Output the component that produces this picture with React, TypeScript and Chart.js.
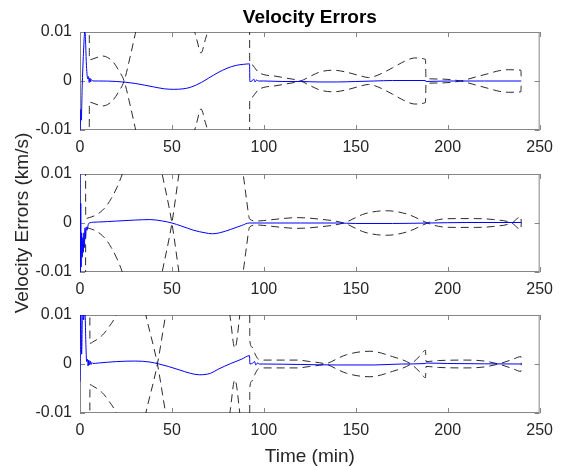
import React, { useEffect, useRef } from "react";
import { Chart, registerables } from "chart.js";

Chart.register(...registerables);

// ---------- axis ticks ----------
const xTicks = [0, 50, 100, 150, 200, 250];
const yTicks = [-0.01, 0, 0.01];
const yTickLabels = ["-0.01", "0", "0.01"];

const titleText = "Velocity Errors";
const yLabelText = "Velocity Errors (km/s)";
const xLabelText = "Time (min)";

// ---------- panel 1 ----------
const err1T = [0, 0.5, 0.7, 1.2, 1.8, 2.4, 2.7, 3.0, 3.4, 3.8, 4.2, 4.6, 5.0, 5.4, 5.8, 6.2, 7, 10, 20, 30, 40, 46, 51, 56, 60, 66, 70, 75, 80, 85, 89, 92.2, 92.4, 93.5, 94.5, 95.2, 96, 97, 100, 110, 120, 130, 140, 150, 160, 170, 180, 187.9, 188.1, 200, 220, 240];
const err1V = [-0.012, -0.0058, -0.008, -0.001, 0.005, 0.0095, 0.0102, 0.0085, 0.004, 0.0015, 0.0004, 0.0009, -0.0003, 0.0006, -0.0002, 0.0003, 0, 0, -0.0001, -0.0005, -0.0012, -0.0016, -0.0017, -0.0016, -0.0013, -0.0003, 0.0006, 0.0017, 0.0026, 0.0032, 0.0034, 0.0035, -0.0001, 0, 0.0004, -0.0002, 0.0002, 0, 0, -0.0001, -0.0001, -0.0002, -0.0002, -0.0001, 0, 0.0001, 0.0001, 0.0001, -0.0001, 0, 0, 0];
const bnd1T = [0, 4.9, 5.1, 7, 10, 12.5, 15, 18, 21, 24, 27, 30, 34, 45, 58, 63.5, 65.8, 68.2, 74, 85, 92.1, 92.3, 93.3, 95, 97, 100, 106, 112, 120, 126, 131, 138, 145, 152, 157, 162, 170, 177, 182, 187.9, 188.2, 196, 207, 215, 222, 228, 233, 239.8, 240];
const bnd1V = [0.05, 0.05, 0.0043, 0.0045, 0.0049, 0.0051, 0.0048, 0.0039, 0.0022, 0, -0.0045, -0.0095, -0.016, -0.03, -0.016, -0.0085, -0.0057, -0.0085, -0.016, -0.03, -0.05, -0.0039, -0.0034, -0.0027, -0.0018, -0.0013, -0.001, -0.0006, 0, 0.0011, 0.0019, 0.0022, 0.0018, 0.0011, 0.0007, 0.0012, 0.0027, 0.0041, 0.0047, 0.0044, 0.0005, 0.0004, 0, -0.0008, -0.0015, -0.0021, -0.0023, -0.0022, -0.0001];

// ---------- panel 2 ----------
const err2T = [0, 0.2, 0.4, 0.6, 0.9, 1.2, 1.5, 1.8, 2.1, 2.4, 2.7, 3.0, 3.4, 3.8, 4.5, 5, 10, 20, 30, 38, 45, 50, 55, 62, 68, 72, 76, 82, 88, 92, 100, 120, 140, 150, 170, 190, 210, 240];
const err2V = [0.012, -0.012, 0.004, -0.009, -0.002, -0.007, -0.003, -0.006, -0.002, -0.005, -0.001, -0.003, -0.0008, -0.0015, -0.0003, 0, 0.0002, 0.0004, 0.0006, 0.0007, 0.0004, 0, -0.0006, -0.0015, -0.002, -0.0022, -0.002, -0.0013, -0.0005, 0, 0, 0, 0, -0.0001, -0.0001, 0, 0.0001, 0.0001];
const bnd2T = [0, 2.9, 3.1, 5, 8, 11, 14, 17, 20, 23, 28, 36, 42, 44.7, 50, 53.8, 57, 70, 84, 88.7, 90.5, 92.3, 96, 100, 110, 118, 130, 143.4, 155, 166.7, 178, 189, 192, 197, 205, 215, 225, 234.8, 239.8, 240];
const bnd2V = [0.05, 0.05, 0.0009, 0.0011, 0.0015, 0.0022, 0.0033, 0.005, 0.0072, 0.01, 0.016, 0.02, 0.015, 0.01, 0, -0.01, -0.018, -0.03, -0.018, -0.01, -0.005, -0.0008, -0.0004, -0.0005, -0.0009, -0.0011, -0.0008, 0, 0.0019, 0.0025, 0.0018, 0, -0.0004, -0.0008, -0.0009, -0.0009, -0.0007, 0, 0.0013, 0];

// ---------- panel 3 ----------
const err3T = [0, 0.4, 0.9, 1.4, 2.0, 2.6, 3.2, 3.6, 4.0, 4.4, 4.8, 5.2, 5.6, 6.0, 6.5, 7, 10, 20, 30, 38, 43, 48, 54, 60, 65, 71, 75, 82, 88, 92.2, 92.4, 94, 95, 95.6, 96.5, 97.5, 100, 120, 140, 160, 175, 187.9, 188.1, 200, 240];
const err3V = [-0.0036, 0.012, 0.002, 0.012, 0.009, 0.012, 0.004, 0.0005, 0.001, -0.0004, 0.0008, -0.0002, 0.0006, -0.0001, 0.0003, 0.0001, 0.0002, 0.0005, 0.0006, 0.0004, 0, -0.0005, -0.0012, -0.0019, -0.0022, -0.0019, -0.0011, 0.0001, 0.001, 0.0017, 0, 0.0002, 0.0005, -0.0002, 0.0002, 0, 0, -0.0001, -0.0002, -0.0002, 0, 0.0001, 0.0002, 0.0001, 0];
const bnd3T = [0, 5.2, 5.4, 7, 10, 13, 16, 19.7, 25, 30, 33, 35.8, 42.1, 46.6, 52, 65, 77, 81.5, 84.2, 86.9, 89.5, 92.2, 92.35, 93.5, 95, 97, 100, 110, 118, 125, 133.5, 145, 157.7, 170, 180, 185, 187.9, 188.2, 195, 210, 220, 227.6, 235, 239.8, 240];
const bnd3V = [0.05, 0.05, 0.0042, 0.0045, 0.0052, 0.0062, 0.0077, 0.01, 0.016, 0.019, 0.015, 0.01, 0, -0.01, -0.02, -0.03, -0.018, -0.01, -0.0032, -0.01, -0.02, -0.04, -0.0049, -0.0035, -0.0022, -0.001, -0.0008, -0.0008, -0.0008, -0.0005, 0, 0.0019, 0.0026, 0.0015, 0, -0.0017, -0.0028, -0.0005, -0.0007, -0.0008, -0.0006, 0, 0.0009, 0.0015, 0];

// ---------- layout ----------
const W = 561;
const H = 466;
const AREA_LEFT = 80;
const AREA_RIGHT = 545;
const FONT = "'Liberation Sans', Arial, Helvetica, sans-serif";
const TICK_COLOR = "#262626";
const BOX_COLOR = "#858585";
const DASH_COLOR = "#2b2b2b";
const TICK_LEN = 5;

type Panel = {
  errT: number[];
  errV: number[];
  bndT: number[];
  bndV: number[];
  top: number;
  bottom: number;
  title?: string;
  yTitle?: string;
  xTitle?: string;
};

const panels: Panel[] = [
  { errT: err1T, errV: err1V, bndT: bnd1T, bndV: bnd1V, top: 32, bottom: 130, title: titleText },
  { errT: err2T, errV: err2V, bndT: bnd2T, bndV: bnd2V, top: 174, bottom: 272, yTitle: yLabelText },
  { errT: err3T, errV: err3V, bndT: bnd3T, bndV: bnd3V, top: 315, bottom: 413, xTitle: xLabelText },
];

const boxPlugin = {
  id: "matlabBox",
  beforeDatasetsDraw(chart: any) {
    const { ctx, chartArea: a, scales } = chart;
    ctx.save();
    ctx.strokeStyle = BOX_COLOR;
    ctx.lineWidth = 1;
    ctx.strokeRect(a.left + 0.5, a.top + 0.5, a.right - a.left - 1, a.bottom - a.top - 1);
    ctx.beginPath();
    for (const t of scales.x.ticks) {
      const px = Math.round(scales.x.getPixelForValue(t.value)) + 0.5;
      ctx.moveTo(px, a.top);
      ctx.lineTo(px, a.top + TICK_LEN);
      ctx.moveTo(px, a.bottom);
      ctx.lineTo(px, a.bottom - TICK_LEN);
    }
    for (const t of scales.y.ticks) {
      const py = Math.round(scales.y.getPixelForValue(t.value)) + 0.5;
      ctx.moveTo(a.left, py);
      ctx.lineTo(a.left + TICK_LEN, py);
      ctx.moveTo(a.right, py);
      ctx.lineTo(a.right - TICK_LEN, py);
    }
    ctx.stroke();
    ctx.restore();
  },
};

function makeConfig(p: Panel): any {
  const err = p.errT.map((t, i) => ({ x: t, y: p.errV[i] }));
  const upper = p.bndT.map((t, i) => ({ x: t, y: p.bndV[i] }));
  const lower = p.bndT.map((t, i) => ({ x: t, y: -p.bndV[i] }));
  const xAxisH = H - p.bottom;
  const common = {
    borderWidth: 1,
    pointRadius: 0,
    fill: false,
    cubicInterpolationMode: "monotone",
    capBezierPoints: false,
  };
  return {
    type: "line",
    data: {
      datasets: [
        { ...common, data: err, borderColor: "#0000ff" },
        { ...common, data: upper, borderColor: DASH_COLOR, borderDash: [8, 5] },
        { ...common, data: lower, borderColor: DASH_COLOR, borderDash: [8, 5] },
      ],
    },
    options: {
      responsive: false,
      animation: false,
      devicePixelRatio: 1,
      layout: {
        padding: { left: 0, right: W - AREA_RIGHT, top: p.title ? 0 : p.top, bottom: 0 },
      },
      plugins: {
        legend: { display: false },
        tooltip: { enabled: false },
        title: p.title
          ? {
              display: true,
              text: p.title,
              fullSize: false,
              color: "#000000",
              font: { family: FONT, size: 19, weight: "bold", lineHeight: 1.2 },
              padding: { top: 6.2, bottom: p.top - 6.2 - 22.8 },
            }
          : { display: false },
      },
      scales: {
        x: {
          type: "linear",
          min: 0,
          max: 250,
          afterBuildTicks: (s: any) => {
            s.ticks = xTicks.map((v) => ({ value: v }));
          },
          afterFit: (s: any) => {
            s.height = xAxisH;
          },
          grid: { display: false, drawTicks: false },
          border: { display: false },
          ticks: {
            autoSkip: false,
            maxRotation: 0,
            padding: 8,
            color: TICK_COLOR,
            font: { family: FONT, size: 16 },
            callback: (v: number) => String(v),
          },
          title: p.xTitle
            ? {
                display: true,
                text: p.xTitle,
                color: TICK_COLOR,
                font: { family: FONT, size: 19, lineHeight: 1 },
                padding: { top: 0, bottom: 0 },
              }
            : { display: false },
        },
        y: {
          type: "linear",
          min: -0.01,
          max: 0.01,
          afterBuildTicks: (s: any) => {
            s.ticks = yTicks.map((v) => ({ value: v }));
          },
          afterFit: (s: any) => {
            s.width = AREA_LEFT;
          },
          grid: { display: false, drawTicks: false },
          border: { display: false },
          ticks: {
            autoSkip: false,
            padding: 8,
            color: TICK_COLOR,
            font: { family: FONT, size: 16 },
            callback: (v: number) => yTickLabels[yTicks.indexOf(v)] ?? String(v),
          },
          title: p.yTitle
            ? {
                display: true,
                text: p.yTitle,
                color: TICK_COLOR,
                font: { family: FONT, size: 19, lineHeight: 1.2 },
                padding: { top: 11, bottom: 0 },
              }
            : { display: false },
        },
      },
    },
    plugins: [boxPlugin],
  };
}

export default function App() {
  const r1 = useRef<HTMLCanvasElement>(null);
  const r2 = useRef<HTMLCanvasElement>(null);
  const r3 = useRef<HTMLCanvasElement>(null);
  const refs = [r1, r2, r3];

  useEffect(() => {
    const charts = panels.map((p, i) => new Chart(refs[i].current as HTMLCanvasElement, makeConfig(p)));
    return () => charts.forEach((c) => c.destroy());
  }, []);

  return (
    <div style={{ position: "fixed", left: 0, top: 0, width: W, height: H, background: "#ffffff" }}>
      {refs.map((r, i) => (
        <canvas
          key={i}
          ref={r}
          width={W}
          height={H}
          style={{ position: "absolute", left: 0, top: 0, width: W, height: H }}
        />
      ))}
    </div>
  );
}
